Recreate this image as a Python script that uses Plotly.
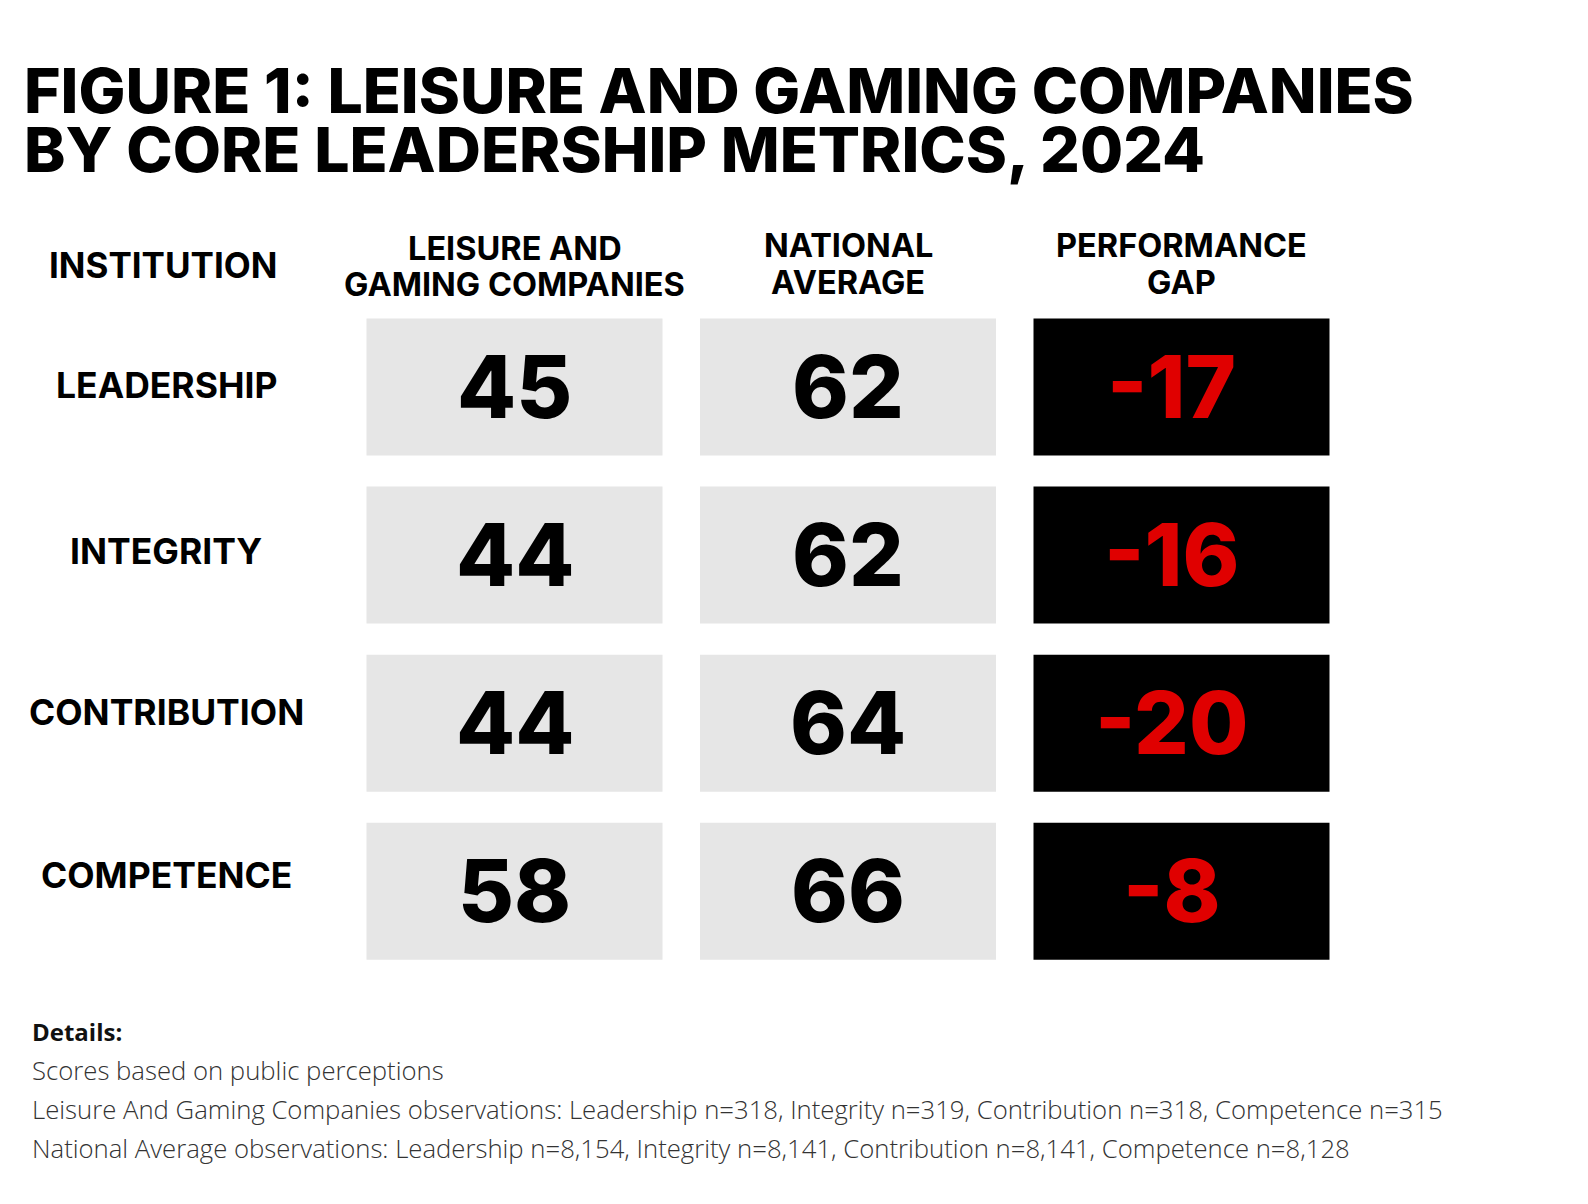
import plotly.graph_objects as go

# ---------------- data ----------------
metrics = ["LEADERSHIP", "INTEGRITY", "CONTRIBUTION", "COMPETENCE"]
column_header_lines = [
    ["LEISURE AND", "GAMING COMPANIES"],
    ["NATIONAL", "AVERAGE"],
    ["PERFORMANCE", "GAP"],
]
row_header = "INSTITUTION"
leisure_scores = [45, 44, 44, 58]
national_scores = [62, 62, 64, 66]
performance_gap = [-17, -16, -20, -8]
title_lines = ["FIGURE 1: LEISURE AND GAMING COMPANIES", "BY CORE LEADERSHIP METRICS, 2024"]
details_title = "Details:"
details_lines = [
    "Scores based on public perceptions",
    "Leisure And Gaming Companies observations: Leadership n=318, Integrity n=319, Contribution n=318, Competence n=315",
    "National Average observations: Leadership n=8,154, Integrity n=8,141, Contribution n=8,141, Competence n=8,128",
]

# ---------------- layout geometry (style) ----------------
W, H = 1588, 1204
COL0, COLSTEP = 514.5, 333.5     # pixel centre of column 0, spacing
ROW0, ROWSTEP = 387.0, 168.1     # pixel centre of row 0, spacing
BOX_W = 296 / COLSTEP
BOX_H = 137 / ROWSTEP

x_range = [-COL0 / COLSTEP, (W - COL0) / COLSTEP]
y_range = [(H - ROW0) / ROWSTEP, -ROW0 / ROWSTEP]

LABEL_Y = [386, 551, 712, 875]          # pixel centres of row labels
HEADER_LINE_Y = [[248, 284], [245, 282.5], [245, 282.5]]
GAP_XSHIFT = -10

HEAD = "Inter"
BODY = "Open Sans"


def px(x):
    return x / W


def py(y):
    return 1 - y / H


fig = go.Figure()

table = [leisure_scores, national_scores, performance_gap]
fills = ["#e6e6e6", "#e6e6e6", "#000000"]
text_colors = ["#000000", "#000000", "#e00000"]

annotations = []

for ci, vals in enumerate(table):
    n = len(vals)
    fig.add_trace(go.Bar(
        x=[ci] * n,
        y=[BOX_H] * n,
        base=[ri - BOX_H / 2 for ri in range(n)],
        width=BOX_W,
        marker=dict(color=fills[ci], line=dict(width=0)),
        hoverinfo="skip",
        showlegend=False,
    ))
    for ri, v in enumerate(vals):
        annotations.append(dict(
            text=str(v), x=ci, y=ri, xref="x", yref="y",
            xanchor="center", yanchor="middle", showarrow=False,
            xshift=GAP_XSHIFT if ci == 2 else 0,
            font=dict(family=HEAD, size=86, color=text_colors[ci], weight=800),
        ))

# title
for i, line in enumerate(title_lines):
    annotations.append(dict(
        text=line, xref="paper", yref="paper", x=px(22), y=py(90 + 59 * i),
        xanchor="left", yanchor="middle", showarrow=False,
        font=dict(family=HEAD, size=62.5, color="#000000", weight=800),
    ))
# header
annotations.append(dict(
    text=row_header, xref="paper", yref="paper", x=px(162.5), y=py(265),
    xanchor="center", yanchor="middle", showarrow=False,
    font=dict(family=HEAD, size=35, color="#000000", weight=700),
))
for ci, lines in enumerate(column_header_lines):
    for li, line in enumerate(lines):
        annotations.append(dict(
            text=line, x=ci, xref="x", yref="paper", y=py(HEADER_LINE_Y[ci][li]),
            xanchor="center", yanchor="middle", showarrow=False,
            font=dict(family=HEAD, size=32.5, color="#000000", weight=700),
        ))
# row labels
for ri, m in enumerate(metrics):
    annotations.append(dict(
        text=m, xref="paper", x=px(166), yref="paper", y=py(LABEL_Y[ri]),
        xanchor="center", yanchor="middle", showarrow=False,
        font=dict(family=HEAD, size=35.5, color="#000000", weight=700),
    ))
# details
annotations.append(dict(
    text=details_title, xref="paper", yref="paper", x=px(30), y=py(1031),
    xanchor="left", yanchor="middle", showarrow=False,
    font=dict(family=BODY, size=24, color="#111111", weight=700),
))
for i, line in enumerate(details_lines):
    annotations.append(dict(
        text=line, xref="paper", yref="paper", x=px(30), y=py(1070 + 39 * i),
        xanchor="left", yanchor="middle", showarrow=False,
        font=dict(family=BODY, size=25.7, color="#333333", weight=300),
    ))

fig.update_layout(
    width=W, height=H,
    margin=dict(l=0, r=0, t=0, b=0),
    paper_bgcolor="white", plot_bgcolor="white",
    barmode="overlay",
    xaxis=dict(range=x_range, visible=False, fixedrange=True),
    yaxis=dict(range=y_range, visible=False, fixedrange=True),
    annotations=annotations,
)

fig.write_html(
    "out.html",
    config={"displayModeBar": False},
    post_script="document.body.style.margin='0';",
)
